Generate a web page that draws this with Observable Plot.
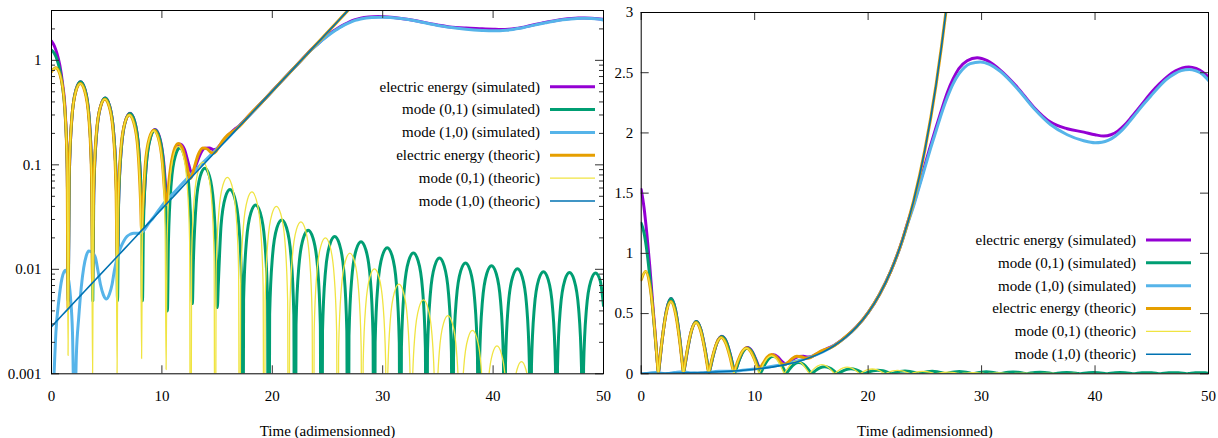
<!DOCTYPE html>
<html><head><meta charset="utf-8">
<script src="https://cdn.jsdelivr.net/npm/d3@7"></script>
<script src="https://cdn.jsdelivr.net/npm/@observablehq/plot@0.6"></script>
<style>
body{margin:0;background:#fff;}
#wrap{position:relative;width:1218px;height:438px;display:flex;}
#wrap svg{display:block;overflow:visible;}
</style></head><body><div id="wrap"></div>
<script>
// ---- data (time, value) ----
const eeSim = [[0,1.53],[0.25,1.38],[0.5,1.16],[0.75,0.9],[1.0,0.6],[1.25,0.31],[1.43,0.09],[1.52,0.008],
[1.61,0.0783],[1.85,0.284],[2.23,0.528],[2.63,0.625],[3.03,0.528],[3.41,0.284],[3.65,0.0794],[3.74,0.0145],
[3.83,0.0561],[4.08,0.1975],[4.46,0.367],[4.86,0.435],[5.26,0.367],[5.64,0.197],[5.89,0.0557],[5.98,0.013],
[6.07,0.0412],[6.32,0.142],[6.70,0.263],[7.11,0.311],[7.52,0.263],[7.90,0.1427],[8.15,0.0449],[8.24,0.023],
[8.33,0.0357],[8.58,0.1009],[8.96,0.1833],[9.37,0.2175],[9.78,0.1849],[10.16,0.1065],[10.41,0.0531],[10.50,0.047],
[10.59,0.0514],[10.84,0.0833],[11.22,0.1344],[11.63,0.158],[12.04,0.1405],[12.42,0.1012],[12.67,0.0842],[12.76,0.0838],
[12.85,0.0863],[13.10,0.1002],[13.48,0.1271],[13.89,0.1438],[14.30,0.1448],[14.68,0.1398],[14.93,0.1414],[15.02,0.1438],
[15.11,0.1475],[15.36,0.1592],[15.75,0.1791],[16.165,0.1993],[16.58,0.2183],[16.97,0.2349],[17.31,0.256],
[18,0.304],[19,0.392],[20,0.508],[21,0.659],[22,0.853],[23,1.105],[23.5,1.26],[24,1.405],[24.5,1.565],[25,1.73],[25.5,1.895],[26,2.05],[26.5,2.20],[27,2.34],[27.5,2.45],[28,2.535],[28.73,2.60],[29.61,2.625],[30.5,2.60],[31.67,2.52],[33.14,2.38],[34.6,2.214],[36.07,2.09],[37.55,2.035],[39.01,2.007],[40.0,1.985],[40.77,1.974],[41.4,1.985],[42.0,2.015],[42.6,2.065],[43.2,2.13],[43.8,2.20],[44.4,2.27],[45.0,2.34],[45.7,2.41],[46.4,2.47],[47.1,2.515],[47.7,2.54],[48.27,2.547],[48.9,2.535],[49.5,2.505],[50,2.463]];

const m01Sim = [[0,1.25],[0.25,1.17],[0.5,1.02],[0.75,0.81],[1.0,0.56],[1.25,0.29],[1.43,0.09],[1.52,0.005],
[1.61,0.078],[1.85,0.284],[2.23,0.528],[2.63,0.625],[3.03,0.528],[3.41,0.284],[3.65,0.078],[3.74,0.005],
[3.83,0.0544],[4.08,0.197],[4.46,0.367],[4.86,0.435],[5.26,0.367],[5.64,0.197],[5.89,0.0544],[5.98,0.005],
[6.07,0.0388],[6.32,0.141],[6.70,0.262],[7.11,0.31],[7.52,0.262],[7.90,0.141],[8.15,0.0388],[8.24,0.005],
[8.33,0.0269],[8.58,0.0976],[8.96,0.181],[9.37,0.215],[9.78,0.181],[10.16,0.0976],[10.41,0.0269],[10.50,0.004],
[10.59,0.0181],[10.84,0.0658],[11.22,0.122],[11.63,0.145],[12.04,0.122],[12.42,0.0658],[12.67,0.0181],[12.76,0.0047],
[12.85,0.0116],[13.10,0.0422],[13.48,0.0785],[13.89,0.093],[14.30,0.0785],[14.68,0.0422],[14.93,0.0116],[15.02,0.0043],
[15.11,0.00725],[15.36,0.0263],[15.75,0.049],[16.165,0.058],[16.58,0.049],[16.97,0.0263],[17.22,0.00725],[17.31,0],
[17.40,0.00515],[17.66,0.0187],[18.06,0.0348],[18.49,0.0412],[18.91,0.0348],[19.31,0.0187],[19.57,0.00515],[19.66,0],
[19.76,0.0037],[20.02,0.01344],[20.42,0.025],[20.855,0.0296],[21.29,0.025],[21.69,0.01344],[21.95,0.0037],[22.05,0],
[22.15,0.00296],[22.41,0.01076],[22.82,0.02],[23.25,0.0237],[23.68,0.02],[24.09,0.01076],[24.35,0.00296],[24.45,0],
[24.55,0.00258],[24.81,0.00935],[25.22,0.01739],[25.65,0.0206],[26.08,0.01739],[26.49,0.00935],[26.75,0.00258],[26.85,0],
[26.945,0.0023],[27.205,0.00835],[27.61,0.01553],[28.035,0.0184],[28.46,0.01553],[28.865,0.00835],[29.125,0.0023],[29.22,0],
[29.315,0.00201],[29.575,0.00731],[29.98,0.01359],[30.41,0.0161],[30.84,0.01359],[31.24,0.00731],[31.50,0.00201],[31.60,0],
[31.695,0.00179],[31.955,0.00649],[32.355,0.01207],[32.78,0.0143],[33.205,0.01207],[33.605,0.00649],[33.865,0.00179],[33.96,0],
[34.055,0.0016],[34.315,0.00581],[34.715,0.0108],[35.14,0.0128],[35.565,0.0108],[35.965,0.00581],[36.225,0.0016],[36.32,0],
[36.415,0.00144],[36.675,0.00522],[37.075,0.00971],[37.50,0.0115],[37.925,0.00971],[38.325,0.00522],[38.585,0.00144],[38.68,0],
[38.775,0.00135],[39.03,0.0049],[39.43,0.00912],[39.855,0.0108],[40.28,0.00912],[40.68,0.0049],[40.935,0.00135],[41.03,0],
[41.125,0.00126],[41.38,0.00459],[41.78,0.00852],[42.205,0.0101],[42.63,0.00852],[43.03,0.00459],[43.285,0.00126],[43.38,0],
[43.475,0.00119],[43.735,0.00431],[44.135,0.00802],[44.56,0.0095],[44.985,0.00802],[45.385,0.00431],[45.645,0.00119],[45.74,0],
[45.835,0.00116],[46.095,0.00422],[46.495,0.00785],[46.92,0.0093],[47.345,0.00785],[47.745,0.00422],[48.005,0.00116],[48.10,0],
[48.195,0.00115],[48.455,0.00418],[48.855,0.00776],[49.28,0.0092],[49.705,0.00776],[50,0.0045]];

const m10Sim = [[0,0.0002],[0.2,0.0008],[0.4,0.0025],[0.66,0.005],[0.95,0.0082],[1.27,0.0098],[1.5,0.0085],[1.72,0.0054],[1.9,0.0025],[2.08,0.0003],[2.25,0.0015],[2.47,0.0035],[2.7,0.0068],[2.92,0.0104],[3.15,0.0135],[3.38,0.015],[3.7,0.0145],[3.98,0.0129],[4.2,0.0098],[4.43,0.0072],[4.7,0.0057],[4.98,0.0052],[5.25,0.0058],[5.49,0.0072],[5.7,0.0098],[5.95,0.0129],[6.25,0.016],[6.55,0.0187],[6.85,0.0207],[7.15,0.0217],[7.45,0.0222],[7.75,0.0222],[8.05,0.0222],[8.35,0.0235],[8.8,0.0275],[9.2,0.031],[9.6,0.0355],[10.0,0.0405],[10.5,0.047],[11,0.053],[12,0.0688],[13,0.0885],[14,0.1125],[15,0.143],[16,0.182],[17,0.235],[18,0.302],[19,0.391],[20,0.507],[21,0.658],[22,0.852],[23,1.10],[23.5,1.25],[24,1.39],[24.5,1.55],[25,1.71],[25.5,1.87],[26,2.02],[26.5,2.17],[27,2.30],[27.5,2.41],[28,2.49],[28.5,2.545],[29,2.575],[29.9,2.59],[30.7,2.57],[31.67,2.51],[33.14,2.37],[34.6,2.205],[36.07,2.07],[37.55,1.985],[39.0,1.935],[40.0,1.918],[40.6,1.922],[41.2,1.94],[41.8,1.975],[42.4,2.025],[43.0,2.09],[43.6,2.16],[44.2,2.23],[44.9,2.305],[45.6,2.38],[46.3,2.445],[47.0,2.49],[47.6,2.517],[48.3,2.527],[48.9,2.515],[49.5,2.485],[50,2.436]];

const eeTheo = [[0,0.78],[0.39,0.85],[0.79,0.717],[1.17,0.386],[1.41,0.106],[1.50,0.0042],
[1.59,0.0751],[1.83,0.272],[2.21,0.506],[2.61,0.60],[3.01,0.506],[3.39,0.272],[3.63,0.0753],[3.72,0.0074],
[3.81,0.0536],[4.05,0.1932],[4.43,0.359],[4.83,0.425],[5.23,0.359],[5.61,0.1934],[5.85,0.0546],[5.94,0.0132],
[6.03,0.0399],[6.27,0.1368],[6.65,0.2535],[7.05,0.3005],[7.45,0.2537],[7.83,0.1377],[8.07,0.044],[8.16,0.0235],
[8.25,0.0357],[8.49,0.0995],[8.87,0.1812],[9.27,0.2143],[9.67,0.1823],[10.05,0.1035],[10.29,0.0487],[10.38,0.0417],
[10.47,0.0466],[10.71,0.0819],[11.09,0.1366],[11.49,0.160],[11.89,0.1412],[12.27,0.0963],[12.51,0.0749],[12.60,0.0742],
[12.69,0.0769],[12.93,0.0941],[13.31,0.1264],[13.71,0.145],[14.11,0.1417],[14.49,0.1304],[14.73,0.1296],[14.82,0.132],
[14.91,0.135],[15.15,0.1479],[15.53,0.1711],[15.93,0.1917],[16.33,0.2055],[16.71,0.2182],[17.04,0.235],
[18,0.306],[19,0.392],[20,0.508],[21,0.658],[22,0.853],[23,1.105],[24,1.432],[25,1.857],[26,2.407],[27,3.12],[28,4.04]];

const m01Theo = [[0,0.78],[0.39,0.85],[0.79,0.717],[1.17,0.386],[1.41,0.106],[1.50,0.0015],
[1.59,0.075],[1.83,0.272],[2.21,0.506],[2.61,0.60],[3.01,0.506],[3.39,0.272],[3.63,0.075],[3.72,0.0009],
[3.81,0.0531],[4.05,0.193],[4.43,0.359],[4.83,0.425],[5.23,0.359],[5.61,0.193],[5.85,0.0531],[5.94,0.001],
[6.03,0.0375],[6.27,0.136],[6.65,0.253],[7.05,0.30],[7.45,0.253],[7.83,0.136],[8.07,0.0375],[8.16,0.0014],
[8.25,0.0265],[8.49,0.0962],[8.87,0.179],[9.27,0.212],[9.67,0.179],[10.05,0.0962],[10.29,0.0265],[10.38,0.0011],
[10.47,0.0188],[10.71,0.0681],[11.09,0.127],[11.49,0.15],[11.89,0.127],[12.27,0.0681],[12.51,0.0188],[12.60,0],
[12.69,0.01325],[12.93,0.0481],[13.31,0.0895],[13.71,0.106],[14.11,0.0895],[14.49,0.0481],[14.73,0.01325],[14.82,0],
[14.91,0.0095],[15.15,0.0345],[15.53,0.0641],[15.93,0.076],[16.33,0.0641],[16.71,0.0345],[16.95,0.0095],[17.04,0],
[17.13,0.00688],[17.37,0.025],[17.75,0.0464],[18.15,0.055],[18.55,0.0464],[18.93,0.025],[19.17,0.00688],[19.26,0],
[19.35,0.005],[19.59,0.0182],[19.97,0.0338],[20.37,0.040],[20.77,0.0338],[21.15,0.0182],[21.39,0.005],[21.48,0],
[21.57,0.00356],[21.81,0.0129],[22.19,0.0241],[22.59,0.0285],[22.99,0.0241],[23.37,0.0129],[23.61,0.00356],[23.70,0],
[23.79,0.0025],[24.03,0.00908],[24.41,0.01688],[24.81,0.020],[25.21,0.01688],[25.59,0.00908],[25.83,0.0025],[25.92,0],
[26.01,0.00179],[26.25,0.00649],[26.63,0.01207],[27.03,0.0143],[27.43,0.01207],[27.81,0.00649],[28.05,0.00179],[28.14,0],
[28.23,0.00126],[28.47,0.00459],[28.85,0.00852],[29.25,0.0101],[29.65,0.00852],[30.03,0.00459],[30.27,0.00126],[30.36,0],
[30.45,0.0009],[30.69,0.00327],[31.07,0.00608],[31.47,0.0072],[31.87,0.00608],[32.25,0.00327],[32.49,0.0009],[32.58,0],
[32.67,0.00064],[32.91,0.00232],[33.29,0.0043],[33.69,0.0051],[34.09,0.0043],[34.47,0.00232],[34.71,0.00064],[34.80,0],
[34.89,0.00045],[35.13,0.00163],[35.51,0.00304],[35.91,0.0036],[36.31,0.00304],[36.69,0.00163],[36.93,0.00045],[37.02,0],
[37.11,0.000325],[37.35,0.00118],[37.73,0.00219],[38.13,0.0026],[38.53,0.00219],[38.91,0.00118],[39.15,0.000325],[39.24,0],
[39.33,0.00023],[39.57,0.00084],[39.95,0.00156],[40.35,0.00185],[40.75,0.00156],[41.13,0.00084],[41.37,0.00023],[41.46,0],
[41.55,0.000164],[41.79,0.000595],[42.17,0.0011],[42.57,0.00131],[42.97,0.0011],[43.35,0.000595],[43.59,0.000164],[43.68,0],
[44.79,0.00093],[45.90,0],[47.01,0.00066],[48.12,0],[49.23,0.00047],[50,0.0003]];

const m10Theo = [[0,0.00283],[1,0.00367],[2,0.00476],[3,0.00616],[4,0.00799],[5,0.01036],[6,0.01342],[7,0.0174],[8,0.02255],[9,0.02923],[10,0.0379],[11,0.0491],[12,0.0637],[13,0.0825],[14,0.107],[15,0.1387],[16,0.1797],[17,0.233],[18,0.302],[19,0.3914],[20,0.5074],[21,0.6577],[22,0.8525],[23,1.105],[24,1.432],[25,1.857],[26,2.407],[27,3.12],[28,4.044]];

const seriesNames = ["electric energy (simulated)","mode (0,1) (simulated)","mode (1,0) (simulated)","electric energy (theoric)","mode (0,1) (theoric)","mode (1,0) (theoric)"];
const seriesData = [eeSim, m01Sim, m10Sim, eeTheo, m01Theo, m10Theo];
const seriesColors = ["#9400d3","#009e73","#56b4e9","#e69f00","#f0e442","#0072b2"];
const seriesWidths = [3,3,3,3,1.3,1.6];

const xTicks = [0,10,20,30,40,50];
const xLabel = "Time (adimensionned)";
const logTicks = [0.001,0.01,0.1,1];
const logTickLabels = ["0.001","0.01","0.1","1"];
const logMinor = [0.002,0.003,0.004,0.005,0.006,0.007,0.008,0.009,0.02,0.03,0.04,0.05,0.06,0.07,0.08,0.09,0.2,0.3,0.4,0.5,0.6,0.7,0.8,0.9,2,3];
const linTicks = [0,0.5,1,1.5,2,2.5,3];
const linTickLabels = ["0","0.5","1","1.5","2","2.5","3"];

const FONT = "'Liberation Serif', 'Times New Roman', serif";

function panel(o) {
  const fw = o.width - o.ml - o.mr, fh = o.height - o.mt - o.mb;
  const fix = o.log ? (v => Math.max(v, 1e-6)) : (v => v);
  const marks = [];
  seriesData.forEach((data, i) => marks.push(Plot.line(data, {
    x: d => d[0], y: d => fix(d[1]), stroke: seriesColors[i], strokeWidth: seriesWidths[i],
    curve: "monotone-x", clip: true, strokeLinejoin: "round"
  })));
  const tk = {stroke: "#333", strokeWidth: 1};
  marks.push(Plot.tickX(xTicks, {x: d => d, insetTop: fh - 8, ...tk}));
  marks.push(Plot.tickX(xTicks, {x: d => d, insetBottom: fh - 8, ...tk}));
  marks.push(Plot.tickY(o.yTicks, {y: d => d, insetRight: fw - 8, ...tk}));
  marks.push(Plot.tickY(o.yTicks, {y: d => d, insetLeft: fw - 8, ...tk}));
  if (o.minor) {
    marks.push(Plot.tickY(o.minor, {y: d => d, insetRight: fw - 4, ...tk}));
    marks.push(Plot.tickY(o.minor, {y: d => d, insetLeft: fw - 4, ...tk}));
  }
  marks.push(Plot.frame({stroke: "#000", strokeWidth: 1}));
  marks.push(Plot.text(xTicks, {x: d => d, frameAnchor: "bottom", dy: 22, text: d => String(d), fontSize: 15, lineAnchor: "middle"}));
  marks.push(Plot.text(o.yTicks, {y: d => d, frameAnchor: "left", dx: o.ydx, textAnchor: "end", text: (d, i) => o.yLabels[i], fontSize: 15, lineAnchor: "middle"}));
  marks.push(Plot.text([xLabel], {frameAnchor: "bottom", dy: 57, text: d => d, fontSize: 15, lineAnchor: "middle"}));
  const svg = Plot.plot({
    width: o.width, height: o.height,
    marginLeft: o.ml, marginRight: o.mr, marginTop: o.mt, marginBottom: o.mb,
    x: {domain: [0, 50], axis: null},
    y: {type: o.log ? "log" : "linear", domain: o.yDomain, axis: null},
    style: {fontFamily: FONT, fontSize: "15px", background: "#fff", color: "#000"},
    marks
  });
  // legend
  const g = d3.select(svg).append("g").attr("font-family", FONT).attr("font-size", 15);
  seriesNames.forEach((name, i) => {
    const y = o.legY + i * 22.85;
    g.append("text").attr("x", o.legX).attr("y", y).attr("dy", "0.32em").attr("text-anchor", "end").attr("fill", "#000").text(name);
    g.append("line").attr("x1", o.legX + 10).attr("x2", o.legX + 55).attr("y1", y).attr("y2", y)
      .attr("stroke", seriesColors[i]).attr("stroke-width", seriesWidths[i]);
  });
  return svg;
}

const wrap = document.getElementById("wrap");
wrap.appendChild(panel({width: 612, height: 438, ml: 51, mr: 9, mt: 10, mb: 64.7, log: true,
  yDomain: [0.001, 3], yTicks: logTicks, yLabels: logTickLabels, minor: logMinor, ydx: -10, legX: 540, legY: 86.7}));
wrap.appendChild(panel({width: 606, height: 438, ml: 28.7, mr: 10, mt: 12, mb: 64.7, log: false,
  yDomain: [0, 3], yTicks: linTicks, yLabels: linTickLabels, minor: null, ydx: -8, legX: 524, legY: 240}));
</script></body></html>
